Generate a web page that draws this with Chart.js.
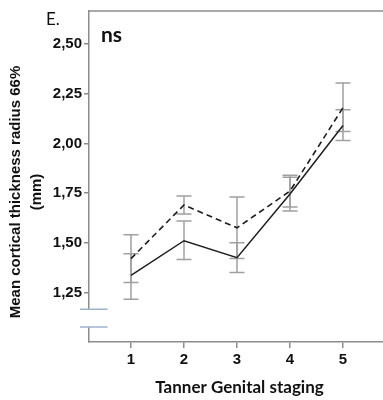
<!DOCTYPE html>
<html>
<head>
<meta charset="utf-8">
<script src="https://cdn.jsdelivr.net/npm/chart.js@4/dist/chart.umd.min.js"></script>
<style>
    html, body { margin: 0; padding: 0; background: #fff; overflow: hidden; }
    #wrap { width: 390px; height: 400px; }
</style>
</head>
<body>
<div id="wrap"><canvas id="chart" width="390" height="400"></canvas></div>
<script>
const stages = [1, 2, 3, 4, 5];
const yTicks = [1.25, 1.50, 1.75, 2.00, 2.25, 2.50];

const solidMean = [1.335, 1.51, 1.425, 1.745, 2.09];
const solidLow = [1.215, 1.415, 1.35, 1.66, 2.015];
const solidHigh = [1.445, 1.61, 1.50, 1.83, 2.17];

const dashedMean = [1.42, 1.69, 1.575, 1.76, 2.18];
const dashedLow = [1.30, 1.645, 1.42, 1.68, 2.06];
const dashedHigh = [1.54, 1.735, 1.73, 1.84, 2.305];

const breakValues = [1.075, 1.165];

const FRAME = '#8c8c8c';
const TEXT = '#111';

function toPoints(values) {
    return stages.map((s, i) => ({ x: s, y: values[i] }));
}

const errorBars = {
    id: 'errorBars',
    beforeDatasetsDraw(chart) {
        const { ctx, scales: { x, y } } = chart;
        const sets = [[solidLow, solidHigh], [dashedLow, dashedHigh]];
        ctx.save();
        ctx.strokeStyle = '#a0a0a0';
        ctx.lineWidth = 1.5;
        sets.forEach(([low, high]) => {
            stages.forEach((s, i) => {
                const px = x.getPixelForValue(s);
                const top = y.getPixelForValue(high[i]);
                const bot = y.getPixelForValue(low[i]);
                ctx.beginPath();
                ctx.moveTo(px, top);
                ctx.lineTo(px, bot);
                ctx.moveTo(px - 7.5, top);
                ctx.lineTo(px + 7.5, top);
                ctx.moveTo(px - 7.5, bot);
                ctx.lineTo(px + 7.5, bot);
                ctx.stroke();
            });
        });
        ctx.restore();
    }
};

const decorations = {
    id: 'decorations',
    afterDraw(chart) {
        const { ctx, chartArea: area, scales: { y } } = chart;
        ctx.save();

        // top frame line
        ctx.strokeStyle = FRAME;
        ctx.lineWidth = 1.5;
        ctx.beginPath();
        ctx.moveTo(area.left, area.top);
        ctx.lineTo(area.right, area.top);
        ctx.stroke();

        // axis break
        const yHi = y.getPixelForValue(breakValues[1]);
        const yLo = y.getPixelForValue(breakValues[0]);
        ctx.fillStyle = '#fff';
        ctx.fillRect(area.left - 2, yHi, 4, yLo - yHi);
        ctx.strokeStyle = '#9fb3cc';
        ctx.lineWidth = 1.5;
        ctx.beginPath();
        ctx.moveTo(area.left - 9, yHi);
        ctx.lineTo(area.left + 18.5, yHi);
        ctx.moveTo(area.left - 9, yLo);
        ctx.lineTo(area.left + 18.5, yLo);
        ctx.stroke();

        // panel letter and significance
        ctx.fillStyle = TEXT;
        ctx.textBaseline = 'alphabetic';
        ctx.textAlign = 'left';
        ctx.font = '17px Lato, "Open Sans", sans-serif';
        ctx.fillText('E.', 46, 25);
        ctx.font = 'bold 21px Lato, "Open Sans", sans-serif';
        ctx.fillText('ns', 101, 42);

        // y axis title
        ctx.font = 'bold 15px "Liberation Sans", Arial, sans-serif';
        ctx.textAlign = 'center';
        ctx.textBaseline = 'middle';
        ctx.translate(16, 192);
        ctx.rotate(-Math.PI / 2);
        ctx.fillText('Mean cortical thickness radius 66%', 0, 0);
        ctx.fillText('(mm)', 0, 21);
        ctx.restore();
    }
};

new Chart(document.getElementById('chart'), {
    type: 'line',
    data: {
        datasets: [
            {
                label: 'solid',
                data: toPoints(solidMean),
                borderColor: '#1e1e1e',
                borderWidth: 1.5,
                pointRadius: 0,
                tension: 0
            },
            {
                label: 'dashed',
                data: toPoints(dashedMean),
                borderColor: '#1e1e1e',
                borderWidth: 1.6,
                borderDash: [6, 4],
                pointRadius: 0,
                tension: 0
            }
        ]
    },
    options: {
        responsive: false,
        animation: false,
        layout: { padding: { top: 10, left: 0, right: 0, bottom: 0 } },
        plugins: {
            legend: { display: false },
            tooltip: { enabled: false }
        },
        scales: {
            x: {
                type: 'linear',
                min: 0.2075,
                max: 5.887,
                afterBuildTicks: (scale) => { scale.ticks = stages.map((v) => ({ value: v })); },
                afterFit: (scale) => { scale.height = 58; },
                grid: { drawOnChartArea: false, drawTicks: true, tickLength: 6, color: FRAME, lineWidth: 1.5 },
                border: { display: true, color: FRAME, width: 1.5 },
                ticks: {
                    color: TEXT,
                    padding: 3,
                    maxRotation: 0,
                    font: { family: '"Liberation Sans", Arial, sans-serif', size: 15, weight: 'bold' },
                    callback: (v) => String(v)
                },
                title: {
                    display: true,
                    text: 'Tanner Genital staging',
                    color: TEXT,
                    padding: { top: 0, bottom: 2 },
                    font: { family: 'Lato, "Open Sans", sans-serif', size: 17, weight: 'bold', lineHeight: 1.2 }
                }
            },
            y: {
                min: 1.0,
                max: 2.667,
                afterBuildTicks: (scale) => { scale.ticks = yTicks.map((v) => ({ value: v })); },
                afterFit: (scale) => { scale.width = 89; },
                grid: { drawOnChartArea: false, drawTicks: true, tickLength: 5, color: FRAME, lineWidth: 1.5 },
                border: { display: true, color: FRAME, width: 1.5 },
                ticks: {
                    color: TEXT,
                    padding: 2,
                    font: { family: '"Liberation Sans", Arial, sans-serif', size: 15, weight: 'bold' },
                    callback: (v) => v.toFixed(2).replace('.', ',')
                }
            }
        }
    },
    plugins: [errorBars, decorations]
});
</script>
</body>
</html>
